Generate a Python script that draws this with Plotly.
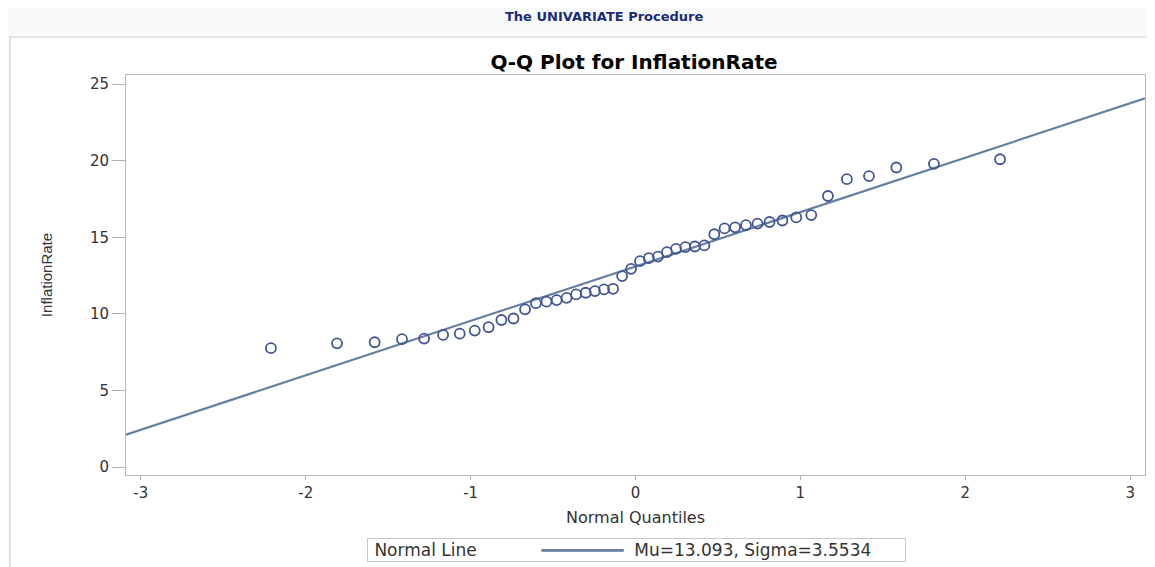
import plotly.graph_objects as go

# Normal quantiles (Blom) for the 46 ordered observations
normal_quantiles = [-2.211, -1.810, -1.582, -1.416, -1.282, -1.167, -1.066, -0.975, -0.891, -0.813,
                    -0.740, -0.670, -0.604, -0.540, -0.478, -0.418, -0.360, -0.302, -0.246, -0.191,
                    -0.136, -0.081, -0.027, 0.027, 0.081, 0.136, 0.191, 0.246, 0.302, 0.360,
                    0.418, 0.478, 0.540, 0.604, 0.670, 0.740, 0.813, 0.891, 0.975, 1.066,
                    1.167, 1.282, 1.416, 1.582, 1.810, 2.211]
inflation_rate = [7.76, 8.08, 8.15, 8.35, 8.39, 8.63, 8.71, 8.91, 9.13, 9.6,
                  9.7, 10.3, 10.7, 10.8, 10.9, 11.05, 11.27, 11.38, 11.49, 11.6,
                  11.64, 12.47, 12.94, 13.45, 13.64, 13.74, 14.03, 14.25, 14.36, 14.4,
                  14.47, 15.2, 15.58, 15.65, 15.8, 15.9, 16.0, 16.1, 16.3, 16.45,
                  17.7, 18.8, 19.0, 19.56, 19.8, 20.1]
mu = 13.093
sigma = 3.5534
x_range = [-3.09, 3.09]
y_range = [-0.52, 25.6]
x_ticks = [-3, -2, -1, 0, 1, 2, 3]
y_ticks = [0, 5, 10, 15, 20, 25]
legend_title = "Normal Line"
legend_label = "Mu=13.093, Sigma=3.5534"

# page body has an 8px default margin; work in page pixel coordinates
OFF = 8
W, H = 1155 - OFF, 567 - OFF
PL, PR, PT, PB = 126, 1145, 75, 475          # plot area in page pixels
L, R, T, B = PL - OFF, (1155 - PR), PT - OFF, H - (PB - OFF)
pw, ph = W - L - R, H - T - B

def px_x(p):
    return (p - OFF - L) / pw

def px_y(p):
    return (H - B - (p - OFF)) / ph

font = "DejaVu Sans, Verdana, sans-serif"
tcol = "#333333"
line_col = "#667fa2"

fig = go.Figure()
fig.add_trace(go.Scatter(
    x=x_range, y=[mu + sigma * x_range[0], mu + sigma * x_range[1]],
    mode="lines", line=dict(color=line_col, width=2.2),
    name=legend_label, showlegend=False, hoverinfo="skip"))
fig.add_trace(go.Scatter(
    x=normal_quantiles, y=inflation_rate, mode="markers",
    marker=dict(symbol="circle-open", size=10, color="#445694", line=dict(width=1.8, color="#445694")),
    name="InflationRate", showlegend=False))

axis_common = dict(showgrid=False, zeroline=False, showline=True, linecolor="#b8b8b8",
                   linewidth=1, mirror=True, ticks="outside", tickcolor="#b0b0b0",
                   tickfont=dict(family=font, size=15, color=tcol), automargin=False)

fig.update_layout(
    width=W, height=H,
    margin=dict(l=L, r=R, t=T, b=B, autoexpand=False),
    paper_bgcolor="#f9fafc", plot_bgcolor="white",
    font=dict(family=font, color=tcol),
    title=dict(text="<b>Q-Q Plot for InflationRate</b>", x=(634 - OFF) / W, xanchor="center",
               y=1 - (62 - OFF) / H, yanchor="middle", font=dict(family=font, size=20, color="black")),
    xaxis=dict(range=x_range, tickvals=x_ticks, ticktext=[str(v) for v in x_ticks], ticklen=4,
               title=dict(text="Normal Quantiles", font=dict(family=font, size=16, color=tcol), standoff=10),
               **axis_common),
    yaxis=dict(range=y_range, tickvals=y_ticks, ticktext=[str(v) for v in y_ticks], ticklen=13,
               title=dict(text="InflationRate", font=dict(family="Liberation Sans, Arial", size=15, color=tcol), standoff=33),
               **axis_common),
    showlegend=False,
)

# legend box: "Normal Line   ━━━  Mu=..., Sigma=..."
nb = "\u00a0"
legend_text = (nb + legend_title + nb * 12
               + "<span style='color:%s'>%s</span>" % (line_col, "\u2501" * 8)
               + nb * 2 + legend_label + nb * 6)
fig.add_annotation(text=legend_text, xref="paper", yref="paper",
                   x=px_x(367), y=px_y(549.5), xanchor="left", yanchor="middle", showarrow=False,
                   align="left", bordercolor="#c8c8c8", borderwidth=1, borderpad=1, bgcolor="white",
                   font=dict(family=font, size=17, color=tcol))

# page frame (white panel with thin border, below header band)
fig.add_shape(type="rect", xref="paper", yref="paper", layer="below",
              x0=px_x(10), x1=px_x(1175), y0=px_y(590), y1=px_y(37),
              fillcolor="white", line=dict(color="#d9dbe0", width=1.5))

fig.add_annotation(text="<b>The UNIVARIATE Procedure</b>", xref="paper", yref="paper",
                   x=px_x(604), y=px_y(16), xanchor="center", yanchor="middle", showarrow=False,
                   font=dict(family=font, size=13, color="#1c2a78"))

fig.write_html("out.html")
